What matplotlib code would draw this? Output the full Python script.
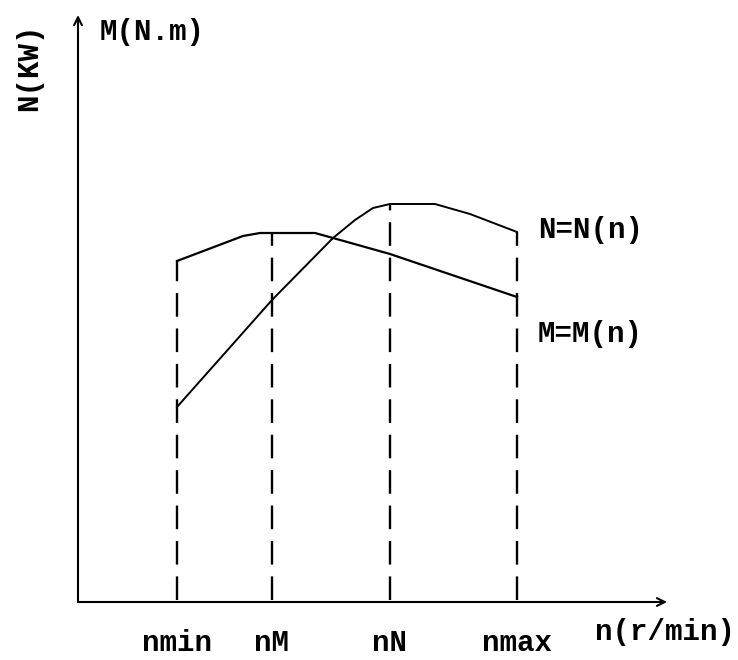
import matplotlib
matplotlib.use("Agg")
import matplotlib.pyplot as plt
import numpy as np

# speeds on the n axis (distance from origin)
n_ticks = [99, 194, 312, 439]
n_labels = ["nmin", "nM", "nN", "nmax"]

# torque curve M=M(n)
m_x = [99, 165, 182, 237, 255, 312, 439]
m_y = [339, 364, 367, 367, 362, 346, 303]

# power curve N=N(n)
p_x = [99, 194, 255, 277, 295, 312, 357, 392, 439]
p_y = [193, 300, 362, 380, 392, 396, 396, 386, 368]

plt.rcParams['font.family'] = ['Liberation Mono', 'DejaVu Sans']

fig = plt.figure(figsize=(7.38, 6.60), dpi=100)
ax = fig.add_axes([0, 0, 1, 1])
ax.set_xlim(-78, 660)
ax.set_ylim(-60, 600)
ax.axis("off")

# axes with arrows
arrow = dict(arrowstyle="->", lw=1.5, color="black", shrinkA=0, shrinkB=0,
             mutation_scale=14)
ax.annotate("", xy=(0, 585), xytext=(0, -2), arrowprops=arrow)
ax.annotate("", xy=(589, -2), xytext=(0, -2), arrowprops=arrow)

ax.plot(m_x, m_y, color="black", lw=1.6)
ax.plot(p_x, p_y, color="black", lw=1.4)

# dashed drop lines from the top curve to the n axis
for xt in n_ticks:
    top = max(np.interp(xt, m_x, m_y), np.interp(xt, p_x, p_y))
    ax.plot([xt, xt], [0, top], color="black", lw=1.7, ls=(0, (10, 5)))

fs = 21
kw = dict(fontsize=fs, fontweight="bold")
for xt, lab in zip(n_ticks, n_labels):
    ax.text(xt, -51, lab, ha="center", va="baseline", **kw)

ax.text(22, 568, "M(N.m)", ha="left", va="center", **kw)
ax.text(-49, 533, "N(KW)", ha="center", va="center", rotation=90, **kw)
ax.text(460, 370, "N=N(n)", ha="left", va="center", **kw)
ax.text(460, 266, "M=M(n)", ha="left", va="center", **kw)
ax.text(517, -40, "n(r/min)", ha="left", va="baseline", **kw)

fig.savefig("out.png", dpi=100)
